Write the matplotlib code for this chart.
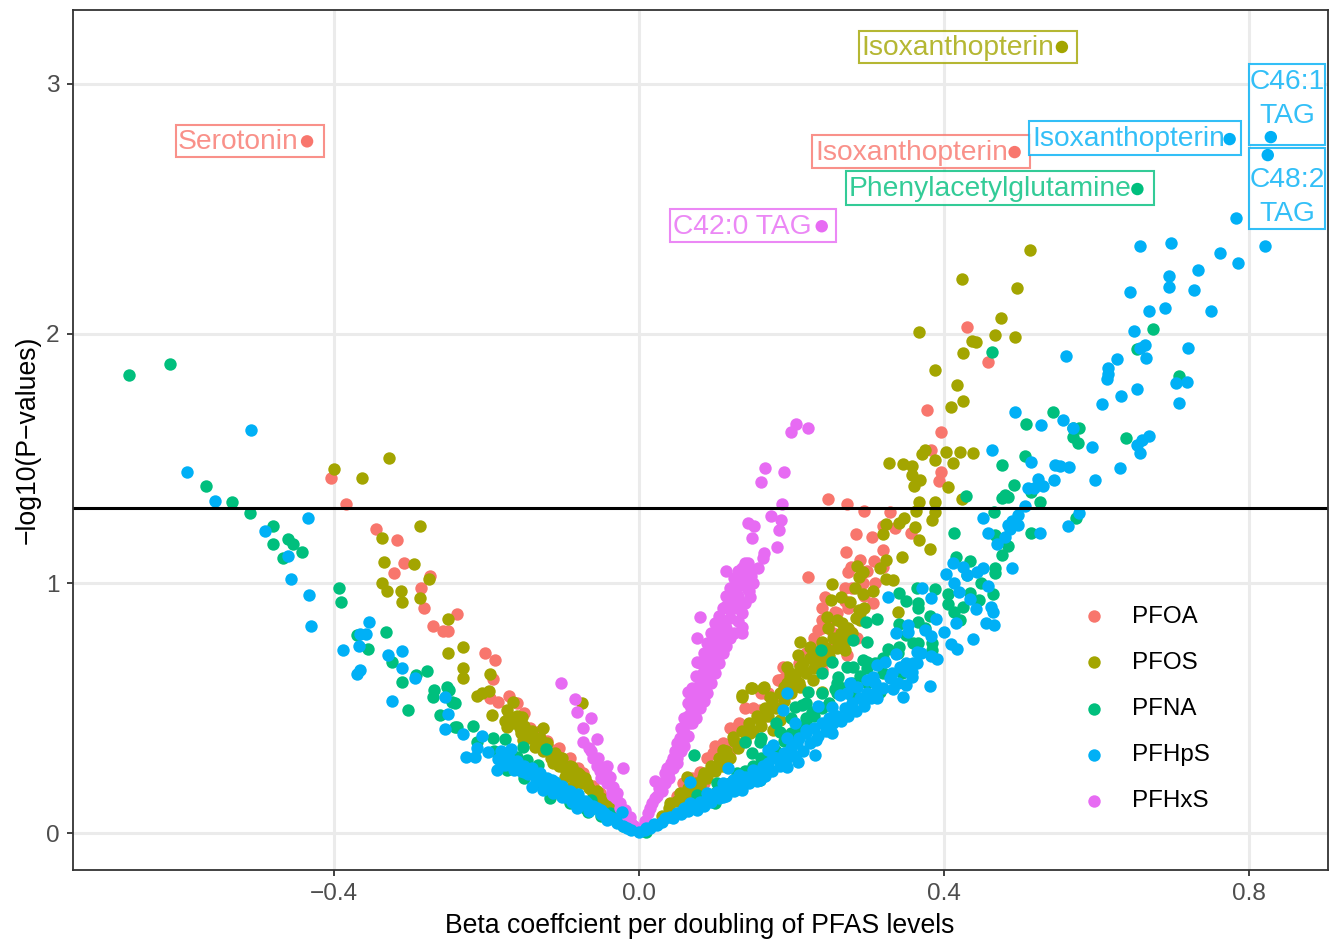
import matplotlib
matplotlib.use('Agg')
import matplotlib.pyplot as plt
from matplotlib.patches import Rectangle

plt.rcParams['font.family'] = ['Liberation Sans', 'DejaVu Sans']

W, H = 1340, 942

# beta coefficient / -log10(p) per PFAS
pfoa_x = [-0.403, -0.384, -0.345, -0.317, -0.308, -0.321, -0.274, -0.286, -0.282, -0.239, -0.27, -0.257, -0.25,
          -0.202, -0.189, -0.191, -0.195, -0.185, -0.143, -0.114, -0.1, -0.073, -0.051, -0.035,
          0.431, 0.458, 0.378, 0.396, 0.383, 0.397, 0.394, 0.248, 0.273, 0.295, 0.33, 0.32, 0.336, 0.357, 0.285,
          0.306, 0.272, 0.32, 0.29, 0.308, 0.279, 0.275, 0.32, 0.222, 0.294, 0.27, 0.244, 0.307, 0.241, 0.257,
          0.24, 0.235, 0.279, 0.286, 0.254, 0.273, 0.241, 0.189, 0.185, 0.241, 0.254, 0.182, 0.159, 0.132, 0.097,
          0.08, 0.058, 0.169, 0.145, 0.1, 0.12, 0.14, 0.16]
pfoa_y = [1.422, 1.318, 1.217, 1.173, 1.081, 1.041, 1.029, 0.981, 0.901, 0.877, 0.829, 0.809, 0.809,
          0.721, 0.693, 0.617, 0.54, 0.525, 0.42, 0.332, 0.28, 0.24, 0.16, 0.11,
          2.026, 1.886, 1.694, 1.606, 1.534, 1.446, 1.41, 1.338, 1.318, 1.29, 1.286, 1.23, 1.221, 1.201, 1.197,
          1.185, 1.125, 1.133, 1.093, 1.089, 1.065, 1.045, 1.065, 1.025, 1.001, 0.981, 0.945, 0.921, 0.901, 0.885,
          0.853, 0.813, 0.805, 0.781, 0.741, 0.713, 0.681, 0.665, 0.613, 0.653, 0.745, 0.613, 0.493, 0.44, 0.32,
          0.244, 0.2, 0.553, 0.42, 0.35, 0.42, 0.5, 0.56]
pfoa_band_x = [0.05, 0.07, 0.09, 0.11, 0.13, 0.15, 0.17, 0.19, 0.21, 0.22, 0.23, 0.24, 0.25, 0.26, 0.27, 0.28, 0.29,
               0.3, 0.31, 0.295, 0.275, 0.255, 0.235, 0.205, 0.185, 0.165, 0.145, 0.125, 0.105, 0.085,
               -0.03, -0.045, -0.06, -0.08, -0.09, -0.105, -0.12, -0.13, -0.15, -0.16, -0.17]
pfoa_band_y = [0.15, 0.22, 0.3, 0.36, 0.43, 0.5, 0.56, 0.62, 0.68, 0.72, 0.78, 0.82, 0.84, 0.88, 0.93, 0.98, 1.03,
               1.05, 1.0, 0.95, 0.9, 0.8, 0.74, 0.62, 0.55, 0.47, 0.41, 0.34, 0.27, 0.2,
               0.09, 0.14, 0.19, 0.26, 0.3, 0.34, 0.37, 0.41, 0.48, 0.52, 0.55]

pfos_x = [-0.4, -0.363, -0.328, -0.287, -0.337, -0.334, -0.295, -0.275, -0.337, -0.33, -0.312, -0.287, -0.311,
          -0.25, -0.231, -0.25, -0.231, -0.231, -0.195, -0.197, -0.212, -0.205, -0.165, -0.173, -0.193, -0.153,
          -0.173, -0.156, -0.126, -0.139, -0.152, -0.136, -0.106, -0.113, -0.088, -0.077, -0.097, -0.068, -0.087,
          -0.06, -0.042, -0.034, -0.075,
          0.513, 0.424, 0.496, 0.475, 0.367, 0.467, 0.494, 0.437, 0.442, 0.425, 0.418, 0.388, 0.425, 0.409,
          0.328, 0.346, 0.358, 0.376, 0.371, 0.403, 0.421, 0.438, 0.388, 0.412, 0.358, 0.369, 0.361, 0.405, 0.424,
          0.367, 0.388, 0.363, 0.388, 0.384, 0.348, 0.341, 0.324, 0.362, 0.321, 0.367, 0.382, 0.345, 0.324, 0.286,
          0.316, 0.294, 0.289, 0.324, 0.333, 0.253, 0.283, 0.307, 0.294, 0.265, 0.252, 0.277, 0.289, 0.34, 0.29,
          0.247, 0.26, 0.266, 0.248, 0.262, 0.212, 0.224, 0.271, 0.24, 0.209, 0.231, 0.194, 0.215, 0.198, 0.228,
          0.147, 0.164, 0.24, 0.191, 0.211, 0.135, 0.172, 0.136, 0.148, 0.163, 0.123, 0.11, 0.097, 0.084, 0.063,
          0.054, 0.041, 0.159, 0.176, 0.185, 0.211, 0.198, 0.202, 0.176, 0.146, 0.119, 0.08]
pfos_y = [1.458, 1.422, 1.502, 1.229, 1.181, 1.085, 1.077, 1.017, 1.001, 0.969, 0.969, 0.941, 0.925,
          0.857, 0.745, 0.721, 0.661, 0.621, 0.637, 0.569, 0.549, 0.561, 0.525, 0.493, 0.473, 0.465,
          0.425, 0.42, 0.42, 0.385, 0.372, 0.344, 0.304, 0.28, 0.264, 0.232, 0.224, 0.2, 0.184,
          0.16, 0.12, 0.092, 0.521,
          2.335, 2.219, 2.183, 2.062, 2.006, 1.994, 1.986, 1.97, 1.966, 1.922, 1.794, 1.854, 1.73, 1.706,
          1.482, 1.478, 1.47, 1.534, 1.518, 1.526, 1.526, 1.522, 1.494, 1.482, 1.434, 1.414, 1.39, 1.386, 1.338,
          1.326, 1.326, 1.29, 1.286, 1.254, 1.262, 1.241, 1.238, 1.225, 1.197, 1.173, 1.137, 1.105, 1.093, 1.069,
          1.061, 1.045, 1.025, 1.017, 1.013, 0.997, 0.981, 0.969, 0.957, 0.945, 0.933, 0.925, 0.893, 0.885, 0.853,
          0.865, 0.853, 0.841, 0.821, 0.781, 0.765, 0.745, 0.733, 0.765, 0.713, 0.693, 0.665, 0.653, 0.625, 0.613,
          0.581, 0.585, 0.565, 0.585, 0.585, 0.553, 0.545, 0.545, 0.581, 0.581, 0.385, 0.332, 0.264, 0.224, 0.224,
          0.16, 0.12, 0.453, 0.505, 0.453, 0.665, 0.64, 0.585, 0.412, 0.4, 0.304, 0.2]
pfos_band_x = [0.03, 0.04, 0.05, 0.055, 0.06, 0.065, 0.07, 0.075, 0.08, 0.085, 0.09, 0.095, 0.1, 0.105, 0.11, 0.115,
               0.12, 0.125, 0.13, 0.135, 0.14, 0.145, 0.15, 0.155, 0.16, 0.165, 0.17, 0.175, 0.18, 0.185, 0.19, 0.195,
               0.2, 0.205, 0.21, 0.215, 0.22, 0.225, 0.23, 0.235, 0.24, 0.245, 0.25, 0.255, 0.26, 0.265, 0.27, 0.275,
               0.28, 0.285, 0.29, 0.295,
               -0.02, -0.03, -0.04, -0.05, -0.055, -0.065, -0.07, -0.075, -0.08, -0.085, -0.09, -0.095, -0.1, -0.105,
               -0.11, -0.115, -0.12, -0.125, -0.13, -0.135, -0.14, -0.145, -0.15, -0.155, -0.16, -0.165, -0.17, -0.175]
pfos_band_y = [0.07, 0.1, 0.13, 0.15, 0.14, 0.18, 0.16, 0.2, 0.19, 0.24, 0.22, 0.27, 0.25, 0.3, 0.27, 0.33,
               0.3, 0.37, 0.34, 0.41, 0.37, 0.44, 0.41, 0.47, 0.43, 0.5, 0.47, 0.53, 0.5, 0.56, 0.53, 0.6,
               0.56, 0.63, 0.6, 0.68, 0.64, 0.7, 0.66, 0.72, 0.69, 0.74, 0.71, 0.78, 0.74, 0.8, 0.77, 0.82,
               0.8, 0.86, 0.88, 0.9,
               0.06, 0.09, 0.12, 0.14, 0.17, 0.18, 0.22, 0.2, 0.24, 0.22, 0.27, 0.25, 0.3, 0.27,
               0.32, 0.3, 0.36, 0.33, 0.38, 0.36, 0.41, 0.38, 0.43, 0.4, 0.47, 0.44, 0.47, 0.45]

pfna_x = [-0.669, -0.615, -0.567, -0.534, -0.51, -0.48, -0.46, -0.454, -0.48, -0.441, -0.467, -0.393, -0.391,
          -0.332, -0.37, -0.355, -0.324, -0.292, -0.278, -0.269, -0.27, -0.249, -0.245, -0.302, -0.261, -0.241,
          -0.218, -0.31, -0.252, -0.241, -0.239, -0.212, -0.191, -0.176, -0.152, -0.121, -0.16, -0.147, -0.132,
          -0.173, -0.117, -0.062, -0.067, -0.038, -0.09,
          0.675, 0.654, 0.708, 0.543, 0.508, 0.569, 0.577, 0.569, 0.576, 0.639, 0.506, 0.492, 0.477, 0.463,
          0.515, 0.429, 0.476, 0.48, 0.484, 0.526, 0.466, 0.573, 0.414, 0.515, 0.467, 0.484, 0.476, 0.416, 0.434,
          0.43, 0.467, 0.467, 0.449, 0.365, 0.388, 0.341, 0.464, 0.405, 0.35, 0.366, 0.405, 0.434, 0.446, 0.425,
          0.366, 0.414, 0.313, 0.298, 0.382, 0.421, 0.366, 0.341, 0.375, 0.351, 0.281, 0.299, 0.366, 0.384, 0.239,
          0.327, 0.341, 0.384, 0.253, 0.294, 0.3, 0.273, 0.241, 0.261, 0.281, 0.345, 0.222, 0.257, 0.303, 0.316,
          0.205, 0.214, 0.227, 0.22, 0.139, 0.159, 0.148, 0.073, 0.185, 0.129, 0.1, 0.102, 0.159, 0.076, 0.01]
pfna_y = [1.834, 1.878, 1.39, 1.326, 1.282, 1.229, 1.177, 1.157, 1.157, 1.125, 1.101, 0.981, 0.925,
          0.805, 0.793, 0.737, 0.685, 0.633, 0.649, 0.573, 0.545, 0.573, 0.525, 0.493, 0.473, 0.425,
          0.429, 0.605, 0.585, 0.521, 0.425, 0.365, 0.38, 0.376, 0.344, 0.336, 0.304, 0.292, 0.272,
          0.252, 0.14, 0.132, 0.084, 0.08, 0.12,
          2.02, 1.938, 1.83, 1.686, 1.638, 1.622, 1.622, 1.586, 1.562, 1.582, 1.51, 1.394, 1.474, 1.926,
          1.366, 1.35, 1.342, 1.354, 1.346, 1.326, 1.286, 1.262, 1.201, 1.201, 1.193, 1.149, 1.113, 1.105, 1.089,
          1.033, 1.061, 1.041, 1.001, 0.981, 0.977, 0.961, 0.957, 0.957, 0.929, 0.921, 0.917, 0.961, 0.933, 0.905,
          0.901, 0.885, 0.857, 0.845, 0.869, 0.853, 0.845, 0.837, 0.821, 0.793, 0.773, 0.765, 0.761, 0.761, 0.733,
          0.737, 0.745, 0.733, 0.685, 0.693, 0.685, 0.665, 0.641, 0.625, 0.665, 0.641, 0.565, 0.577, 0.545, 0.565,
          0.505, 0.513, 0.485, 0.46, 0.365, 0.365, 0.32, 0.312, 0.404, 0.24, 0.12, 0.2, 0.212, 0.152, 0.004]
pfna_band_x = [0.06, 0.08, 0.1, 0.12, 0.13, 0.14, 0.15, 0.16, 0.17, 0.18, 0.19, 0.2, 0.21, 0.22, 0.23, 0.24, 0.25,
               0.26, 0.27, 0.28, 0.29, 0.3, 0.31, 0.32, 0.28, 0.3, 0.32, 0.34, 0.36, 0.18, 0.16, 0.2, 0.22, 0.24, 0.26,
               -0.02, -0.04, -0.06, -0.08, -0.1, -0.12, -0.14, -0.16, -0.18, -0.13, -0.11, -0.09, -0.07, -0.05,
               -0.15, -0.17, -0.19]
pfna_band_y = [0.09, 0.13, 0.16, 0.2, 0.22, 0.25, 0.27, 0.3, 0.3, 0.33, 0.37, 0.4, 0.42, 0.44, 0.47, 0.5, 0.52,
               0.56, 0.58, 0.6, 0.63, 0.66, 0.68, 0.7, 0.55, 0.6, 0.64, 0.72, 0.76, 0.44, 0.38, 0.46, 0.52, 0.56, 0.6,
               0.03, 0.07, 0.1, 0.14, 0.17, 0.2, 0.24, 0.27, 0.3, 0.2, 0.17, 0.13, 0.1, 0.07,
               0.22, 0.26, 0.33]

pfhxs_x = [-0.102, -0.083, -0.081, -0.063, -0.073, -0.073, -0.055, -0.062, -0.054, -0.042, -0.021, -0.051, -0.038,
           -0.042, -0.034, -0.029, -0.035, -0.025, -0.018, -0.012, -0.006,
           0.004, 0.008, 0.012, 0.015, 0.018, 0.021, 0.024, 0.026, 0.029, 0.032, 0.034, 0.037, 0.04, 0.042, 0.045,
           0.048, 0.05, 0.052, 0.054, 0.056, 0.058, 0.06, 0.062, 0.064, 0.066, 0.068, 0.07, 0.072, 0.074, 0.076,
           0.078, 0.08, 0.082, 0.085, 0.087, 0.09, 0.092, 0.095, 0.097, 0.1, 0.102, 0.105, 0.107, 0.11, 0.112,
           0.115, 0.117, 0.12, 0.122, 0.125, 0.127, 0.13, 0.132, 0.135, 0.138, 0.14, 0.143, 0.147,
           0.076, 0.064, 0.084, 0.021, 0.076, 0.114, 0.08, 0.114, 0.104,
           0.206, 0.2, 0.222, 0.165, 0.191, 0.16, 0.188, 0.173, 0.186, 0.143, 0.151, 0.184, 0.148, 0.181, 0.164,
           0.163, 0.139, 0.156, 0.142, 0.135, 0.142, 0.146, 0.136, 0.136, 0.135]
pfhxs_y = [0.6, 0.537, 0.485, 0.46, 0.42, 0.365, 0.376, 0.33, 0.3, 0.27, 0.26, 0.25, 0.224,
           0.2, 0.184, 0.16, 0.152, 0.12, 0.092, 0.064, 0.03,
           0.02, 0.05, 0.08, 0.1, 0.12, 0.14, 0.15, 0.18, 0.2, 0.2, 0.24, 0.26, 0.25, 0.28, 0.3,
           0.33, 0.3, 0.36, 0.38, 0.35, 0.42, 0.4, 0.45, 0.47, 0.44, 0.5, 0.52, 0.55, 0.5, 0.58,
           0.54, 0.6, 0.63, 0.58, 0.66, 0.62, 0.7, 0.66, 0.74, 0.7, 0.78, 0.74, 0.82, 0.78, 0.85,
           0.82, 0.9, 0.86, 0.94, 0.9, 0.98, 0.95, 1.02, 1.0, 1.06, 1.07, 1.08, 1.03,
           0.685, 0.565, 0.64, 0.208, 0.78, 1.05, 0.865, 0.91, 0.83,
           1.638, 1.606, 1.622, 1.462, 1.446, 1.406, 1.318, 1.27, 1.254, 1.241, 1.23, 1.214, 1.18, 1.145, 1.121,
           1.1, 1.081, 1.061, 1.053, 1.025, 0.981, 0.945, 0.921, 0.825, 0.8]
pfhxs_band_x = [0.03, 0.035, 0.04, 0.045, 0.05, 0.05, 0.055, 0.055, 0.06, 0.06, 0.065, 0.065, 0.07, 0.07, 0.075, 0.075,
                0.08, 0.08, 0.085, 0.085, 0.09, 0.09, 0.095, 0.095, 0.1, 0.1, 0.105, 0.105, 0.11, 0.11, 0.115, 0.115,
                0.12, 0.12, 0.125, 0.125, 0.13, 0.13, 0.135, 0.135, 0.14, 0.14, 0.145, 0.15,
                -0.04, -0.045, -0.05, -0.055, -0.06, -0.065, -0.03, -0.025, -0.035, -0.02, -0.015, -0.01]
pfhxs_band_y = [0.17, 0.2, 0.22, 0.26, 0.28, 0.36, 0.33, 0.42, 0.35, 0.46, 0.39, 0.52, 0.44, 0.58, 0.46, 0.63,
                0.5, 0.68, 0.53, 0.72, 0.56, 0.76, 0.6, 0.8, 0.64, 0.84, 0.68, 0.87, 0.72, 0.9, 0.75, 0.95,
                0.78, 0.98, 0.8, 1.02, 0.85, 1.05, 0.88, 1.06, 0.92, 1.0, 0.97, 1.0,
                0.23, 0.26, 0.22, 0.27, 0.3, 0.34, 0.14, 0.1, 0.17, 0.08, 0.05, 0.04]

pfhps_x = [-0.509, -0.593, -0.556, -0.434, -0.49, -0.46, -0.456, -0.433, -0.43, -0.354, -0.366, -0.358, -0.367,
           -0.388, -0.329, -0.311, -0.366, -0.369, -0.323, -0.311, -0.294, -0.254, -0.25, -0.254, -0.231, -0.205,
           -0.212, -0.226, -0.215, -0.198, -0.167, -0.185, -0.176, -0.186, -0.163, -0.15, -0.132, -0.114, -0.14,
           -0.126, -0.106, -0.113, -0.093, -0.1, -0.08, -0.081, -0.062, -0.049, -0.022, -0.042, -0.029, -0.016,
           -0.068, -0.087,
           0.783, 0.822, 0.658, 0.698, 0.762, 0.786, 0.733, 0.696, 0.644, 0.696, 0.728, 0.69, 0.669, 0.751, 0.649,
           0.664, 0.658, 0.721, 0.627, 0.665, 0.615, 0.614, 0.615, 0.56, 0.653, 0.632, 0.704, 0.719, 0.607, 0.708,
           0.493, 0.557, 0.57, 0.594, 0.527, 0.654, 0.669, 0.66, 0.657, 0.631, 0.599, 0.546, 0.552, 0.564,
           0.463, 0.514, 0.544, 0.523, 0.511, 0.519, 0.53, 0.507, 0.578, 0.451, 0.498, 0.49, 0.484, 0.498, 0.563,
           0.487, 0.458, 0.526, 0.48, 0.47, 0.49, 0.412, 0.425, 0.452, 0.443, 0.43, 0.403, 0.414, 0.458, 0.42,
           0.372, 0.327, 0.383, 0.435, 0.462, 0.442, 0.464, 0.39, 0.416, 0.455, 0.466, 0.353, 0.353, 0.337, 0.375,
           0.401, 0.383, 0.439, 0.41, 0.417, 0.365, 0.338, 0.383, 0.391, 0.365, 0.323, 0.312, 0.342, 0.351, 0.359,
           0.332, 0.307, 0.3, 0.358, 0.351, 0.382, 0.334, 0.312, 0.346, 0.277, 0.286, 0.273, 0.264, 0.195, 0.313,
           0.189, 0.235, 0.253, 0.205, 0.22, 0.247, 0.194, 0.207, 0.233, 0.254, 0.176, 0.169, 0.209, 0.231, 0.194,
           0.159, 0.117, 0.067, 0.15, 0.136, 0.123, 0.11, 0.11, 0.089, 0.076, 0.058, 0.041, 0.024, 0.01, 0.0,
           0.102, 0.132, 0.176, 0.067, 0.163]
pfhps_y = [1.614, 1.446, 1.33, 1.262, 1.21, 1.109, 1.017, 0.953, 0.829, 0.845, 0.797, 0.797, 0.749,
           0.733, 0.713, 0.729, 0.653, 0.637, 0.529, 0.661, 0.621, 0.545, 0.477, 0.417, 0.396, 0.388,
           0.34, 0.304, 0.304, 0.324, 0.336, 0.296, 0.272, 0.252, 0.252, 0.244, 0.22, 0.212, 0.184,
           0.172, 0.18, 0.16, 0.16, 0.144, 0.144, 0.1, 0.1, 0.092, 0.084, 0.052, 0.04, 0.02,
           0.12, 0.124,
           2.463, 2.351, 2.351, 2.363, 2.323, 2.283, 2.255, 2.231, 2.167, 2.187, 2.175, 2.103, 2.091, 2.091, 2.01,
           1.954, 1.942, 1.942, 1.898, 1.902, 1.862, 1.82, 1.838, 1.91, 1.778, 1.75, 1.802, 1.806, 1.718, 1.722,
           1.686, 1.654, 1.622, 1.546, 1.634, 1.554, 1.59, 1.574, 1.522, 1.462, 1.414, 1.474, 1.47, 1.466,
           1.534, 1.486, 1.414, 1.418, 1.382, 1.382, 1.39, 1.31, 1.282, 1.262, 1.274, 1.25, 1.234, 1.234, 1.23,
           1.217, 1.201, 1.201, 1.185, 1.157, 1.061, 1.081, 1.065, 1.061, 1.045, 1.033, 1.037, 1.001, 0.989, 0.965,
           0.981, 0.945, 0.941, 0.937, 0.905, 0.897, 0.885, 0.857, 0.841, 0.841, 0.833, 0.833, 0.805, 0.801, 0.813,
           0.805, 0.789, 0.777, 0.757, 0.737, 0.725, 0.717, 0.709, 0.697, 0.681, 0.685, 0.673, 0.665, 0.681, 0.645,
           0.641, 0.625, 0.613, 0.625, 0.593, 0.589, 0.577, 0.573, 0.545, 0.601, 0.585, 0.561, 0.553, 0.561, 0.541,
           0.493, 0.509, 0.505, 0.44, 0.412, 0.44, 0.38, 0.36, 0.372, 0.4, 0.352, 0.332, 0.284, 0.312, 0.264,
           0.212, 0.26, 0.204, 0.252, 0.172, 0.212, 0.2, 0.144, 0.16, 0.092, 0.092, 0.064, 0.032, 0.02, 0.004,
           0.164, 0.232, 0.304, 0.12, 0.27]
pfhps_band_x = [0.008, 0.015, 0.02, 0.03, 0.035, 0.045, 0.05, 0.055, 0.06, 0.065, 0.07, 0.075, 0.08, 0.085, 0.09, 0.095,
                0.1, 0.105, 0.11, 0.115, 0.12, 0.125, 0.13, 0.135, 0.14, 0.145, 0.15, 0.155, 0.16, 0.165, 0.17, 0.175,
                0.18, 0.185, 0.19, 0.195, 0.2, 0.205, 0.21, 0.215, 0.22, 0.225, 0.23, 0.235, 0.24, 0.245, 0.25, 0.255,
                0.26, 0.265, 0.27, 0.275, 0.28, 0.285, 0.29, 0.295, 0.3, 0.305, 0.31, 0.32, 0.33, 0.34, 0.35, 0.36,
                0.37,
                -0.01, -0.02, -0.03, -0.035, -0.04, -0.045, -0.05, -0.055, -0.06, -0.065, -0.07, -0.075, -0.08, -0.085,
                -0.09, -0.095, -0.1, -0.105, -0.11, -0.115, -0.12, -0.125, -0.13, -0.135, -0.14, -0.145, -0.15, -0.155,
                -0.16, -0.165, -0.17, -0.175, -0.18]
pfhps_band_y = [0.012, 0.02, 0.035, 0.045, 0.06, 0.06, 0.08, 0.075, 0.1, 0.09, 0.11, 0.1, 0.125, 0.11, 0.14, 0.125,
                0.155, 0.14, 0.165, 0.15, 0.18, 0.17, 0.2, 0.19, 0.225, 0.2, 0.23, 0.21, 0.25, 0.23, 0.28, 0.25,
                0.3, 0.27, 0.32, 0.3, 0.34, 0.31, 0.38, 0.33, 0.4, 0.36, 0.42, 0.39, 0.44, 0.41, 0.46, 0.44,
                0.47, 0.45, 0.5, 0.47, 0.52, 0.49, 0.54, 0.51, 0.56, 0.54, 0.6, 0.58, 0.62, 0.6, 0.65, 0.68,
                0.72,
                0.012, 0.03, 0.05, 0.06, 0.07, 0.08, 0.075, 0.1, 0.11, 0.09, 0.13, 0.115, 0.155, 0.13,
                0.17, 0.145, 0.19, 0.16, 0.205, 0.175, 0.22, 0.2, 0.24, 0.21, 0.26, 0.235, 0.27, 0.25,
                0.29, 0.27, 0.3, 0.31, 0.33]

# labelled metabolites
label_names = ['Serotonin', 'Isoxanthopterin', 'Isoxanthopterin', 'Phenylacetylglutamine', 'C42:0 TAG',
               'Isoxanthopterin', 'C46:1\nTAG', 'C48:2\nTAG']
label_x = [-0.435, 0.555, 0.493, 0.654, 0.24, 0.775, 0.829, 0.825]
label_y = [2.77, 3.148, 2.727, 2.579, 2.43, 2.779, 2.787, 2.715]

colors = {'PFOA': '#F8766D', 'PFOS': '#A3A500', 'PFNA': '#00BF7D', 'PFHpS': '#00B0F6', 'PFHxS': '#E76BF3'}
label_colors = ['#F8766D', '#A3A500', '#F8766D', '#00BF7D', '#E76BF3', '#00B0F6', '#00B0F6', '#00B0F6']

# box corners and text anchor in pixels of the final image
boxes = [(176, 125, 324, 157), (859, 31, 1077, 63), (812, 135, 1030, 168), (846, 171, 1154, 205),
         (670, 209, 836, 242), (1029, 121, 1241, 155), (1249, 64, 1325, 145), (1249, 148, 1325, 229)]
text_pos = [(178, 142), (861, 48), (815, 153), (849, 189), (673, 227), (1032, 139), (1287, 99), (1287, 197)]

fig = plt.figure(figsize=(W / 100, H / 100), dpi=100)
ax = fig.add_axes([73 / W, 1 - 870 / H, 1255 / W, 860 / H])

size = 80
handles = {}
for name, xs, ys, bx, by in [('PFOA', pfoa_x, pfoa_y, pfoa_band_x, pfoa_band_y),
                             ('PFOS', pfos_x, pfos_y, pfos_band_x, pfos_band_y),
                             ('PFNA', pfna_x, pfna_y, pfna_band_x, pfna_band_y),
                             ('PFHxS', pfhxs_x, pfhxs_y, pfhxs_band_x, pfhxs_band_y),
                             ('PFHpS', pfhps_x, pfhps_y, pfhps_band_x, pfhps_band_y)]:
    handles[name] = ax.scatter(xs + bx, ys + by, s=size, c=colors[name], linewidths=0, zorder=2, label=name)

ax.axhline(1.3, color='black', lw=2.2, zorder=2.5)

for i, name in enumerate(label_names):
    x0, y0, x1, y1 = boxes[i]
    c = label_colors[i]
    ax.add_patch(Rectangle((x0 / W, 1 - y1 / H), (x1 - x0) / W, (y1 - y0) / H, transform=fig.transFigure,
                           facecolor='white', edgecolor=c, lw=1.5, alpha=0.8, clip_on=False, zorder=3))
    tx, ty = text_pos[i]
    ha = 'center' if '\n' in name else 'left'
    ax.text(tx / W, 1 - ty / H, name, transform=fig.transFigure, color=c, alpha=0.8, fontsize=20.3, ha=ha, va='center',
            linespacing=1.42, zorder=3.5, clip_on=False)

ax.scatter(label_x, label_y, s=size, c=label_colors, linewidths=0, zorder=4)

ax.set_xlim(-0.742, 0.904)
ax.set_ylim(-0.148, 3.296)
ax.set_xticks([-0.4, 0.0, 0.4, 0.8])
ax.set_xticklabels(['\u22120.4', '0.0', '0.4', '0.8'])
ax.set_yticks([0, 1, 2, 3])

ax.grid(True, color='#EBEBEB', lw=2.2)
ax.set_axisbelow(True)
for s in ax.spines.values():
    s.set_color('#333333')
    s.set_linewidth(1.3)
ax.tick_params(colors='#4D4D4D', labelsize=17.6, length=4, width=1.3, color='#333333', pad=5.5)

fig.text(700 / W, 1 - 926 / H, 'Beta coeffcient per doubling of PFAS levels', fontsize=19.2, ha='center', va='center')
fig.text(28 / W, 1 - 440 / H, '\u2212log10(P\u2212values)', fontsize=19.2, rotation=90, ha='center', va='center')

order = ['PFOA', 'PFOS', 'PFNA', 'PFHpS', 'PFHxS']
leg = ax.legend([handles[k] for k in order], order, loc='center left', bbox_to_anchor=(1070 / W, 1 - 709 / H),
                bbox_transform=fig.transFigure, frameon=False, fontsize=17.4, labelspacing=1.0, handletextpad=0.58,
                borderpad=0, borderaxespad=0)

fig.savefig('out.png', dpi=100)
